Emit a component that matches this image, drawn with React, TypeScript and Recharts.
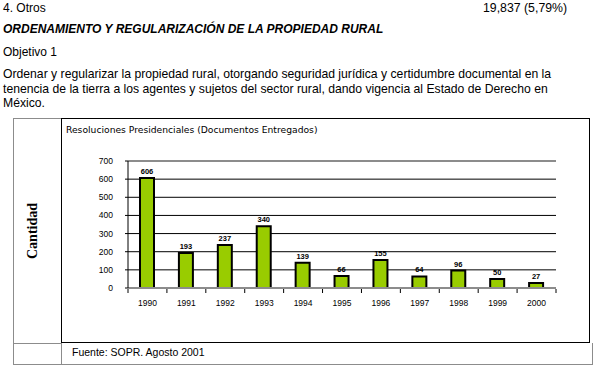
import React from "react";
import {
  BarChart,
  Bar,
  XAxis,
  YAxis,
  CartesianGrid,
  ReferenceLine,
  LabelList,
} from "recharts";

// data
const years = ["1990", "1991", "1992", "1993", "1994", "1995", "1996", "1997", "1998", "1999", "2000"];
const resoluciones = [606, 193, 237, 340, 139, 66, 155, 64, 96, 50, 27];
const yTicks = [0, 100, 200, 300, 400, 500, 600, 700];

const chartData = years.map((year, i) => ({ year, value: resoluciones[i] }));

const paragraphLines = [
  "Ordenar y regularizar la propiedad rural, otorgando seguridad jurídica y certidumbre documental en la",
  "tenencia de la tierra a los agentes y sujetos del sector rural, dando vigencia al Estado de Derecho en",
  "México.",
];

const PLOT_W = 428;
const BAND = PLOT_W / years.length;
const GRAY = "#8c8c8c";
const SANS = "'Liberation Sans', Arial, sans-serif";

const YearTick = (props: any) => {
  const { x, y, payload, index } = props;
  return (
    <g>
      <line x1={x - BAND / 2} x2={x - BAND / 2} y1={y + 1} y2={y + 5} stroke="#000" />
      {index === years.length - 1 && (
        <line x1={x + BAND / 2} x2={x + BAND / 2} y1={y + 1} y2={y + 5} stroke="#000" />
      )}
      <text x={x} y={y + 18} textAnchor="middle" fontSize={8.5} fontFamily={SANS} fill="#000">
        {payload.value}
      </text>
    </g>
  );
};

const txt = (top: number, left: number, extra: React.CSSProperties = {}): React.CSSProperties => ({
  position: "absolute",
  top,
  left,
  fontFamily: SANS,
  fontSize: 12,
  lineHeight: "13px",
  whiteSpace: "nowrap",
  color: "#000",
  ...extra,
});

const line = (left: number, top: number, width: number, height: number, color: string): React.CSSProperties => ({
  position: "absolute",
  left,
  top,
  width,
  height,
  background: color,
});

export default function App() {
  return (
    <div style={{ position: "absolute", left: 0, top: 0, width: 595, height: 370, background: "#fff", overflow: "hidden" }}>
      <div style={txt(2, 3)}>4. Otros</div>
      <div style={txt(2, 483, { fontSize: 12.3 })}>19,837 (5,79%)</div>
      <div style={txt(23, 3, { fontWeight: "bold", fontStyle: "italic" })}>
        ORDENAMIENTO Y REGULARIZACIÓN DE LA PROPIEDAD RURAL
      </div>
      <div style={txt(46, 3)}>Objetivo 1</div>
      {paragraphLines.map((l, i) => (
        <div key={i} style={txt(68 + i * 14.5, 3, { fontSize: 12.2 })}>
          {l}
        </div>
      ))}

      {/* table frame */}
      <div style={line(13, 118, 48, 1, GRAY)} />
      <div style={line(13, 118, 1, 247, GRAY)} />
      <div style={line(61, 343, 1, 21, GRAY)} />
      <div style={line(13, 364, 580, 1, GRAY)} />
      <div style={line(592, 343, 1, 22, GRAY)} />
      <div style={line(13, 343, 48, 1, GRAY)} />

      {/* chart box */}
      <div style={{ position: "absolute", left: 61, top: 118, width: 529, height: 225, border: "1px solid #000", boxSizing: "border-box" }} />

      <div
        style={{
          position: "absolute",
          left: 33,
          top: 231,
          transform: "translate(-50%, -50%) rotate(-90deg)",
          fontFamily: "'Liberation Serif', 'Times New Roman', serif",
          fontWeight: "bold",
          fontSize: 14,
          whiteSpace: "nowrap",
        }}
      >
        Cantidad
      </div>

      <div style={txt(124, 66, { fontFamily: "'DejaVu Sans', sans-serif", fontSize: 9.2, lineHeight: "11px" })}>
        Resoluciones Presidenciales (Documentos Entregados)
      </div>

      <div style={txt(346, 72, { fontSize: 10.5 })}>Fuente: SOPR. Agosto 2001</div>

      <div style={{ position: "absolute", left: 61, top: 119 }}>
        <BarChart
          width={529}
          height={224}
          data={chartData}
          margin={{ top: 42, right: 34, left: 0, bottom: 25 }}
          barCategoryGap={0}
        >
          <CartesianGrid vertical={false} stroke="#000" />
          <XAxis
            dataKey="year"
            height={30}
            tickSize={0}
            tickMargin={0}
            tickLine={false}
            axisLine={{ stroke: GRAY, strokeWidth: 2 }}
            tick={<YearTick />}
            interval={0}
          />
          <YAxis
            width={67}
            domain={[0, 700]}
            ticks={yTicks}
            tickSize={3}
            tickMargin={12}
            axisLine={{ stroke: "#000" }}
            tickLine={{ stroke: "#000" }}
            tick={{ fontSize: 8.5, fontFamily: SANS, fill: "#000" }}
            interval={0}
          />
          <YAxis
            yAxisId="right"
            orientation="right"
            width={0}
            tick={false}
            tickLine={false}
            axisLine={{ stroke: GRAY, strokeWidth: 2 }}
          />
          <ReferenceLine y={700} stroke={GRAY} strokeWidth={2} />
          <Bar
            dataKey="value"
            fill="#99cc00"
            stroke="#000"
            strokeWidth={2}
            barSize={14}
            isAnimationActive={false}
          >
            <LabelList
              dataKey="value"
              position="top"
              offset={4}
              fontSize={7.5}
              fontWeight="bold"
              fontFamily={SANS}
              fill="#000"
            />
          </Bar>
        </BarChart>
      </div>
    </div>
  );
}
